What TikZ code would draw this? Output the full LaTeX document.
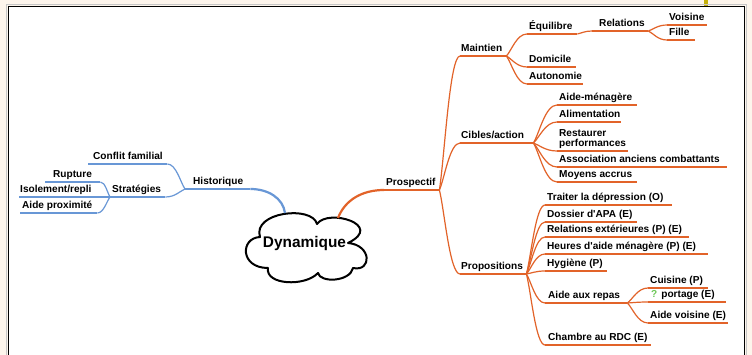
\documentclass[tikz,border=0pt]{standalone}
\usepackage{fontspec}
\setmainfont{Liberation Sans}
\usetikzlibrary{calc}
\definecolor{bgc}{RGB}{253,245,236}
\definecolor{org}{RGB}{226,99,41}
\definecolor{blu}{RGB}{104,151,214}
\definecolor{olv}{RGB}{196,176,10}
\definecolor{qgreen}{RGB}{110,200,90}
\newcommand\ulab[3]{\makebox[#2pt][l]{\hspace{#1pt}#3}}
\newcommand\conn[3]{\draw[#1] (#2) .. controls ($(#2)!0.25!(#3)$) and ($(#3)!0.5!(#2 |- #3)$) .. (#3);}
\newcommand\undl[2]{\draw[#1] (#2.south west) -- (#2.south east);}
\begin{document}
\begin{tikzpicture}[x=1pt,y=-1pt,
  lab/.style={inner xsep=0pt, inner ysep=1.5pt, text depth=3pt, font=\bfseries\fontsize{10.1}{12}\selectfont},
  rn/.style={lab, anchor=south west},
  orgl/.style={draw=org, line width=1.2pt},
  blul/.style={draw=blu, line width=1.2pt},
  orgk/.style={draw=org, line width=2.2pt},
  bluk/.style={draw=blu, line width=2.2pt},
]
\useasboundingbox (0,0) rectangle (752,355);
% background and frame
\fill[bgc] (0,0) rectangle (752,355);
\fill[olv] (704,0) rectangle (708,7);
\fill[white] (8.5,6.5) rectangle (744.5,360);
\draw[gray!45, line width=0.8pt] (6.6,360) -- (6.6,4.6) -- (746.4,4.6) -- (746.4,360);
\draw[black, line width=1.6pt] (8.5,360) -- (8.5,6.5) -- (744.5,6.5) -- (744.5,360);

% central cloud
\draw[line width=2pt, line join=round]
  (260,237) .. controls (252,212) and (312,205) .. (317,224)
  .. controls (328,208) and (385,225) .. (348,243)
  .. controls (372,245) and (372,272) .. (353,268)
  .. controls (350,282) and (320,283) .. (318,273)
  .. controls (305,287) and (265,285) .. (268,268)
  .. controls (240,268) and (240,238) .. cycle;
\node[font=\bfseries\fontsize{15.4}{18}\selectfont, anchor=base, inner sep=0pt] (dyn) at (304.5,248) {Dynamique};
\coordinate (cH) at (285,213);
\coordinate (cP) at (338,218);

% right side nodes
\node[rn] (pro) at (384,190) {\ulab{2}{55}{Prospectif}};
\node[rn] (mai) at (460,56) {\ulab{1}{46}{Maintien}};
\node[rn] (cib) at (460,143) {\ulab{1}{73}{Cibles/action}};
\node[rn] (prp) at (460,274) {\ulab{1}{66}{Propositions}};
\node[rn] (equ) at (527,34) {\ulab{2}{50}{Équilibre}};
\node[rn] (dom) at (527,67) {\ulab{2}{49}{Domicile}};
\node[rn] (aut) at (527,84) {\ulab{2}{56}{Autonomie}};
\node[rn] (rel) at (592,31) {\ulab{7}{56}{Relations}};
\node[rn] (voi) at (667,25) {\ulab{2}{40}{Voisine}};
\node[rn] (fil) at (667,40) {\ulab{2}{28}{Fille}};
\node[rn] (aim) at (557,105) {\ulab{2}{80}{Aide-ménagère}};
\node[rn] (ali) at (557,122) {\ulab{2}{64}{Alimentation}};
\node[rn] (res) at (557,151) {\ulab{2}{71}{\fontsize{10.1}{9.5}\selectfont\begin{tabular}[b]{@{}l@{}}Restaurer\\performances\end{tabular}}};
\node[rn] (ass) at (557,167) {\ulab{2}{170}{Association anciens combattants}};
\node[rn] (moy) at (557,182) {\ulab{2}{80}{Moyens accrus}};
\node[rn] (tra) at (545,205) {\ulab{2}{127}{Traiter la dépression (O)}};
\node[rn] (dos) at (545,222) {\ulab{2}{92}{Dossier d\textquotesingle APA (E)}};
\node[rn] (rex) at (545,237) {\ulab{2}{144}{Relations extérieures (P) (E)}};
\node[rn] (heu) at (545,254) {\ulab{2}{163}{Heures d\textquotesingle aide ménagère (P) (E)}};
\node[rn] (hyg) at (545,271) {\ulab{2}{62}{Hygiène (P)}};
\node[rn] (arp) at (545,303) {\ulab{3}{82}{Aide aux repas}};
\node[rn] (cha) at (545,345) {\ulab{3}{106}{Chambre au RDC (E)}};
\node[rn] (cui) at (648,288) {\ulab{2}{60}{Cuisine (P)}};
\node[rn] (por) at (648,302) {\ulab{3}{78}{{\color{qgreen}?}\hspace{4pt}portage (E)}};
\node[rn] (avo) at (648,323) {\ulab{2}{80}{Aide voisine (E)}};

% left side nodes
\node[rn] (his) at (185,189) {\ulab{8}{65}{Historique}};
\node[rn] (con) at (88,164) {\ulab{5}{79}{Conflit familial}};
\node[rn] (str) at (110,197) {\ulab{2}{55}{Stratégies}};
\node[rn] (rup) at (45,182) {\ulab{8}{55}{Rupture}};
\node[rn] (iso) at (19,197) {\ulab{1}{86}{Isolement/repli}};
\node[rn] (aid) at (20,213) {\ulab{2}{77}{Aide proximité}};

% main branches
\draw[bluk] (cH) .. controls (283,198) and (268,189) .. (his.south east);
\draw[orgk] (cP) .. controls (345,200) and (362,190) .. (pro.south west);
\undl{bluk}{his}
\undl{orgk}{pro}

% right underlines
\foreach \n in {mai,cib,prp,equ,dom,aut,rel,voi,fil,aim,ali,res,ass,moy,tra,dos,rex,heu,hyg,arp,cha,cui,por,avo}{\undl{orgl}{\n}}
% right connectors
\foreach \n in {mai,cib,prp}{\conn{orgl}{pro.south east}{\n.south west}}
\foreach \n in {equ,dom,aut}{\conn{orgl}{mai.south east}{\n.south west}}
\conn{orgl}{equ.south east}{rel.south west}
\foreach \n in {voi,fil}{\conn{orgl}{rel.south east}{\n.south west}}
\foreach \n in {aim,ali,res,ass,moy}{\conn{orgl}{cib.south east}{\n.south west}}
\foreach \n in {tra,dos,rex,heu,hyg,arp,cha}{\conn{orgl}{prp.south east}{\n.south west}}
\foreach \n in {cui,por,avo}{\conn{orgl}{arp.south east}{\n.south west}}

% left underlines and connectors
\foreach \n in {con,str,rup,iso,aid}{\undl{blul}{\n}}
\foreach \n in {con,str}{\conn{blul}{his.south west}{\n.south east}}
\foreach \n in {rup,iso,aid}{\conn{blul}{str.south west}{\n.south east}}
\end{tikzpicture}
\end{document}
